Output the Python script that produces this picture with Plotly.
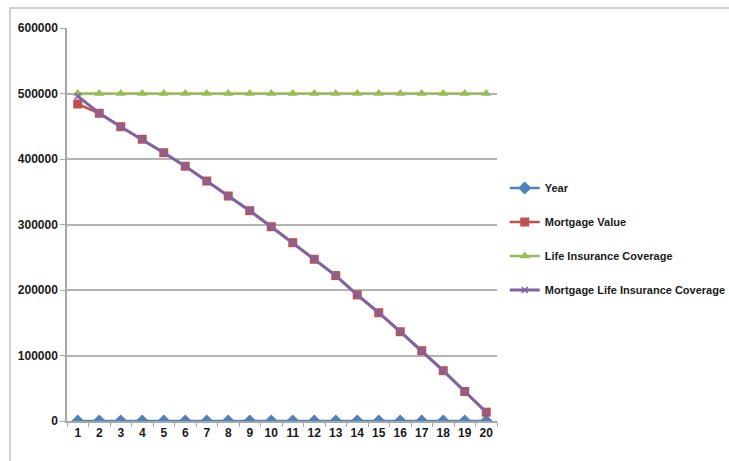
import plotly.graph_objects as go

# Data
years = list(range(1, 21))
year_series = list(range(1, 21))
mortgage_value = [484000, 469800, 449300, 430100, 409600, 389000, 366400, 343500,
                  321100, 296600, 272200, 246900, 222000, 192500, 165300, 136300,
                  107300, 76800, 45000, 13500]
life_insurance = [500000] * 20
mortgage_life = [496000, 469800, 449300, 430100, 409600, 389000, 366400, 343500,
                 321100, 296600, 272200, 246900, 222000, 192500, 165300, 136300,
                 107300, 76800, 45000, 13500]
y_ticks = [0, 100000, 200000, 300000, 400000, 500000, 600000]

FONT = "Liberation Sans Narrow, Liberation Sans, Arial, sans-serif"

fig = go.Figure()
fig.add_trace(go.Scatter(
    x=years, y=year_series, name="Year", mode="lines+markers",
    line=dict(color="#4F81BD", width=2.5),
    marker=dict(symbol="diamond", size=10, color="#4F81BD"),
    legendgroup="a"))
fig.add_trace(go.Scatter(
    x=years, y=mortgage_value, name="Mortgage Value", mode="lines+markers",
    line=dict(color="#C0504D", width=2.5),
    marker=dict(symbol="square", size=9, color="#C0504D"),
    legendgroup="b"))
fig.add_trace(go.Scatter(
    x=years, y=life_insurance, name="Life Insurance Coverage", mode="lines+markers",
    line=dict(color="#9BBB59", width=2.5),
    marker=dict(symbol="triangle-up", size=9, color="#9BBB59"),
    legendgroup="c"))
fig.add_trace(go.Scatter(
    x=years, y=mortgage_life, name="Mortgage Life Insurance Coverage", mode="lines+markers",
    line=dict(color="#8064A2", width=3),
    marker=dict(symbol="x-thin-open", size=6, color="#8064A2",
                line=dict(color="#8064A2", width=1.5)),
    legendgroup="d"))

# Chart-area border: left and top edges, kept within the canvas
bx0 = (10 - 67) / 430
bx1 = (729 - 67) / 430
by0 = (421 - 461) / 393
by1 = (421 - 8) / 393
fig.add_shape(type="path", xref="paper", yref="paper",
              path=f"M {bx0} {by0} L {bx0} {by1} L {bx1} {by1}",
              line=dict(color="#C4C4C4", width=1.5), layer="below")

fig.update_layout(
    width=729, height=461,
    margin=dict(l=67, r=232, t=28, b=40, autoexpand=False),
    paper_bgcolor="white", plot_bgcolor="white",
    showlegend=True,
    legend=dict(x=1.018, y=0.63, xanchor="left", yanchor="top",
                font=dict(family=FONT, size=11, color="#1a1a1a", weight="bold"),
                tracegroupgap=15, itemwidth=30, bgcolor="rgba(0,0,0,0)"),
    xaxis=dict(range=[0.5, 20.5], tickmode="array", tickvals=years,
               ticktext=[str(v) for v in years], ticks="",
               showgrid=False, zeroline=False,
               showline=True, linecolor="#A6A6A6", linewidth=1.5,
               tickfont=dict(family=FONT, size=12, color="#1a1a1a", weight="bold"),
               minor=dict(tick0=0.5, dtick=1, ticks="outside", ticklen=4,
                          tickcolor="#A6A6A6", showgrid=False)),
    yaxis=dict(range=[0, 600000], tickmode="array", tickvals=y_ticks,
               ticktext=[str(v) for v in y_ticks],
               showgrid=True, gridcolor="#B3B3B3", gridwidth=1.5,
               zeroline=False, showline=True, linecolor="#A6A6A6", linewidth=1.5,
               ticks="outside", ticklen=5, tickcolor="#A6A6A6",
               tickfont=dict(family=FONT, size=12, color="#1a1a1a", weight="bold")),
)

fig.write_html("out.html", config={"displayModeBar": False})
